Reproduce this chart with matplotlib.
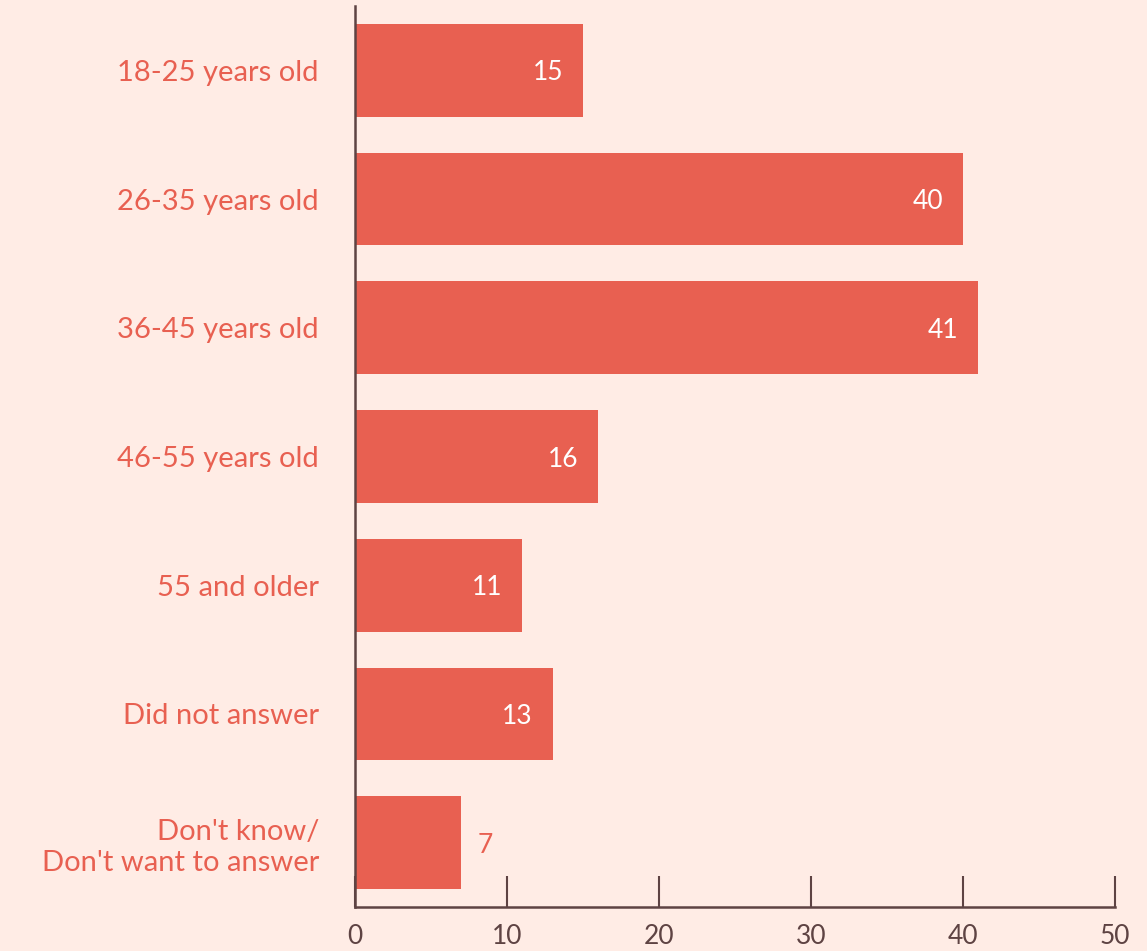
import matplotlib
matplotlib.use("Agg")
import matplotlib.pyplot as plt

categories = ["18-25 years old", "26-35 years old", "36-45 years old", "46-55 years old",
              "55 and older", "Did not answer", "Don't know/\nDon't want to answer"]
values = [15, 40, 41, 16, 11, 13, 7]
xticks = [0, 10, 20, 30, 40, 50]

bg = "#FFECE5"
bar_c = "#E86051"
dark = "#5E4343"

fig = plt.figure(figsize=(11.47, 9.51), dpi=100, facecolor=bg)
ax = fig.add_axes([355/1147, 1-907/951, (1115-355)/1147, (907-6)/951])
ax.set_facecolor(bg)

ypos = list(range(len(categories)))
ax.barh(ypos, values, height=0.72, color=bar_c, zorder=2)
ax.set_ylim(6.5, -0.5)
ax.set_xlim(0, 50)

for y, v in zip(ypos, values):
    if v >= 10:
        ax.text(v - 1.3, y + 0.02, str(v), ha="right", va="center", color="white",
                fontsize=19, family="Lato")
    else:
        ax.text(v + 1.1, y + 0.02, str(v), ha="left", va="center", color=bar_c,
                fontsize=19, family="Lato")

ax.set_yticks(ypos)
ax.set_yticklabels(categories, color=bar_c, fontsize=21, family="Lato", linespacing=1.25)
ax.tick_params(axis="y", length=0, pad=26)
ax.set_xticks(xticks)
ax.set_xticklabels([str(t) for t in xticks], color=dark, fontsize=19, family="Lato")
ax.tick_params(axis="x", direction="in", length=22, width=1.5, color=dark, pad=12)

for s in ["top", "right"]:
    ax.spines[s].set_visible(False)
for s in ["left", "bottom"]:
    ax.spines[s].set_color(dark)
    ax.spines[s].set_linewidth(1.8)

fig.savefig("out.png", dpi=100, facecolor=bg)
